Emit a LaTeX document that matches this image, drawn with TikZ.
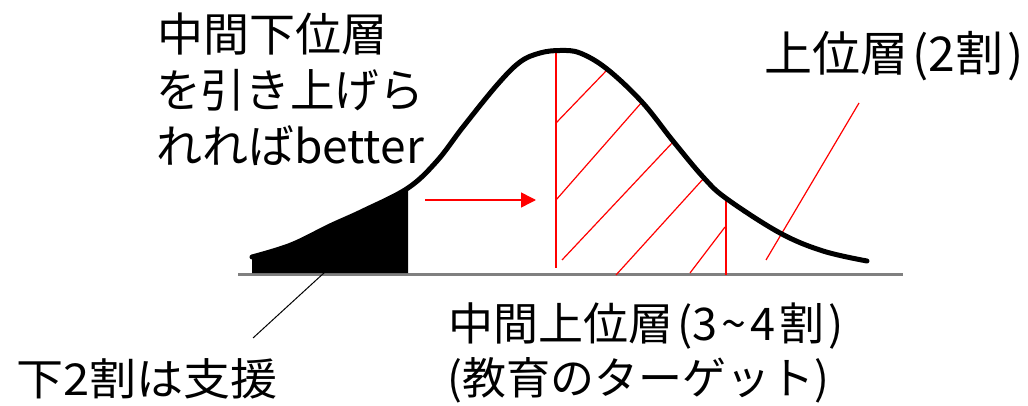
\documentclass[tikz,border=0pt]{standalone}
\usepackage{fontspec}
\usepackage{graphicx}
\newfontfamily\jp{Noto Sans CJK JP}
\usetikzlibrary{arrows.meta}
\begin{document}
\begin{tikzpicture}[x=1pt,y=-1pt,
  bell/.style={line width=5pt, line cap=round, line join=round},
  hatch/.style={red, line width=1.2pt},
  axisline/.style={draw=black!50, line width=3pt},
  lbl/.style={inner sep=0pt, anchor=base west, font=\jp}]
\useasboundingbox (0,0) rectangle (1028,406);
% axis
\coordinate (ax1) at (238,274);
\coordinate (ax2) at (903,274);
\draw[axisline] (ax1) -- (ax2);
% black lower tail
\fill (252,273) -- plot[smooth, tension=0.6] coordinates {(252,257) (291,245) (330,226) (363,211) (408,188)} -- (408,273) -- cycle;
% red lines
\draw[hatch] (556,53) -- (556,268);
\draw[red, line width=2pt] (726,200) -- (726,275);
\draw[hatch] (556,123) -- (607,70);
\draw[hatch] (556,200) -- (642,102);
\draw[hatch] (562,260) -- (673,142);
\draw[hatch] (616,275) -- (704,178);
\draw[hatch] (690,273) -- (725,227);
\draw[hatch] (766,260) -- (859,103);
% arrow
\coordinate (a1) at (425,200);
\coordinate (a2) at (536,200);
\draw[red, line width=1.5pt, -{Triangle[length=15pt,width=15pt]}] (a1) -- (a2);
% bell curve
\draw[bell] plot[smooth, tension=0.6] coordinates {(252,257) (291,245) (330,226) (363,211) (408,188) (437,161) (463,127) (497,85) (520,62) (540,53) (560,50.5) (580,53) (607,69) (642,102) (673,141) (704,178) (727,199) (780,233) (823,251) (867,261)};
% pointer
\coordinate (p1) at (325,272);
\coordinate (p2) at (253,338);
\draw[line width=1pt] (p1) -- (p2);
% labels
\node[lbl, font=\jp\fontsize{46}{56}\selectfont] (t1) at (157,52) {中間下位層};
\node[lbl, font=\jp\fontsize{46}{56}\selectfont] (t2) at (156,108) {\scalebox{0.97}[1]{を引き上げら}};
\node[lbl, font=\jp\fontsize{46}{56}\selectfont] (t3) at (156,164) {れればbetter};
\node[lbl, font=\jp\fontsize{48}{56}\selectfont] (t4) at (764,72) {上位層\hspace{4pt}(2割\hspace{4pt})};
\node[lbl, font=\jp\fontsize{45}{56}\selectfont] (t5) at (448,340) {中間上位層\hspace{4pt}(3\hspace{4pt}\~{}\hspace{4pt}4\hspace{4pt}割\hspace{4pt})};
\node[lbl, font=\jp\fontsize{44}{56}\selectfont] (t6) at (447,394) {(教育のターゲット)};
\node[lbl, font=\jp\fontsize{44}{56}\selectfont] (t7) at (16,395) {\scalebox{1.07}[1]{下2割は支援}};
\end{tikzpicture}
\end{document}
